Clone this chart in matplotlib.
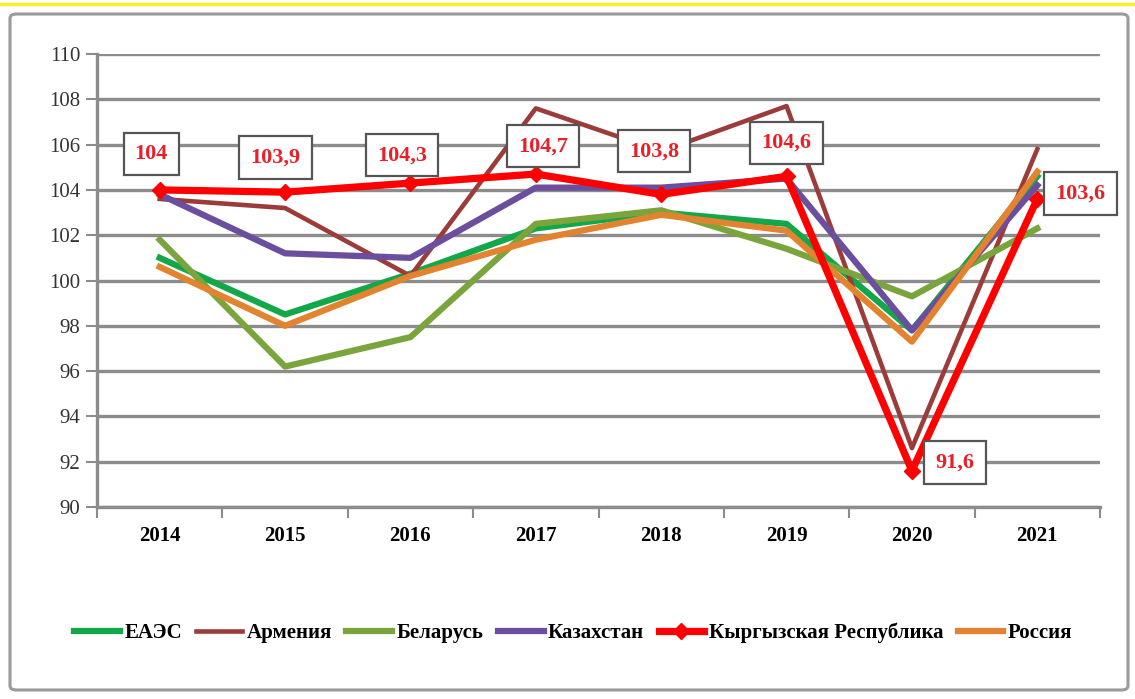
import numpy as np
import matplotlib.pyplot as plt
from matplotlib.patches import FancyBboxPatch
from matplotlib.lines import Line2D

years = ['2014', '2015', '2016', '2017', '2018', '2019', '2020', '2021']

eaeu = [101.0, 98.5, 100.3, 102.3, 103.0, 102.5, 97.8, 104.6]
armenia = [103.6, 103.2, 100.2, 107.6, 105.7, 107.7, 92.6, 105.8]
belarus = [101.8, 96.2, 97.5, 102.5, 103.1, 101.4, 99.3, 102.3]
kazakhstan = [103.8, 101.2, 101.0, 104.1, 104.1, 104.5, 97.8, 104.2]
kyrgyz = [104.0, 103.9, 104.3, 104.7, 103.8, 104.6, 91.6, 103.6]
russia = [100.6, 98.0, 100.2, 101.8, 102.9, 102.2, 97.3, 104.8]

kyrgyz_labels = ['104', '103,9', '104,3', '104,7', '103,8', '104,6', '91,6', '103,6']

plt.rcParams['font.family'] = ['Liberation Serif', 'DejaVu Serif']

fig = plt.figure(figsize=(11.35, 6.99), dpi=100)

# outer frame and the yellow strip on top
frame = FancyBboxPatch((10 / 1135, 1 - 690 / 699), 1118 / 1135, 676 / 699,
                       boxstyle='round,pad=0,rounding_size=0.006',
                       transform=fig.transFigure, facecolor='white',
                       edgecolor='#9a9a9a', linewidth=2.2, zorder=0)
fig.add_artist(frame)
fig.add_artist(Line2D([0.0, 1.0], [1 - 4 / 699, 1 - 4 / 699], transform=fig.transFigure,
                      color='#f5f032', linewidth=2.5))

ax = fig.add_axes([97 / 1135, 1 - 507 / 699, 1003 / 1135, 453 / 699])
ax.set_facecolor('none')
x = np.arange(len(years))

ax.plot(x, eaeu, color='#12a84a', linewidth=4.5, label='ЕАЭС', zorder=3)
ax.plot(x, armenia, color='#9c3c3a', linewidth=3.3, label='Армения', zorder=3)
ax.plot(x, belarus, color='#7aa53c', linewidth=4.5, label='Беларусь', zorder=3)
ax.plot(x, kazakhstan, color='#6b4e9e', linewidth=4.5, label='Казахстан', zorder=3)
ax.plot(x, russia, color='#e3832f', linewidth=4.5, label='Россия', zorder=4)
ax.plot(x, kyrgyz, color='#ff0000', linewidth=5.2, marker='D', markersize=8,
        label='Кыргызская Республика', zorder=5)

# value boxes for Kyrgyz Republic
offsets = [(-6, 26), (-7, 25), (-6, 20), (5, 20), (-5, 31), (0, 24), (31, 6), (31, 4)]
for xi, yi, lab, off in zip(x, kyrgyz, kyrgyz_labels, offsets):
    ax.annotate(lab, (xi, yi), xytext=off, textcoords='offset points',
                ha='center', va='center', fontsize=16, fontweight='bold',
                color='#e8202a', zorder=6,
                bbox=dict(boxstyle='square,pad=0.5', facecolor='white',
                          edgecolor='#555555', linewidth=1.6))

ax.set_xlim(-0.5, len(years) - 0.5)
ax.set_ylim(90, 110)
ax.set_yticks(np.arange(90, 111, 2))
ax.yaxis.grid(True, color='#8c8c8c', linewidth=2.4)
ax.set_axisbelow(True)

ax.set_xticks(np.arange(-0.5, len(years), 1.0))
ax.set_xticklabels([])
ax.set_xticks(x, minor=True)
ax.set_xticklabels(years, minor=True, fontsize=15, fontweight='bold')
ax.tick_params(axis='x', which='major', length=8, width=1.5, color='#8c8c8c')
ax.tick_params(axis='x', which='minor', length=0, pad=14)
ax.tick_params(axis='y', length=8, width=1.5, color='#8c8c8c', labelsize=15,
               labelcolor='#333333', pad=4)

for side in ['top', 'right']:
    ax.spines[side].set_visible(False)
ax.spines['left'].set_color('#8c8c8c')
ax.spines['left'].set_linewidth(2.4)
ax.spines['bottom'].set_color('#8c8c8c')
ax.spines['bottom'].set_linewidth(2.4)

handles, labels = ax.get_legend_handles_labels()
order = ['ЕАЭС', 'Армения', 'Беларусь', 'Казахстан', 'Кыргызская Республика', 'Россия']
hmap = dict(zip(labels, handles))
fig.legend([hmap[k] for k in order], order, loc='center', bbox_to_anchor=(0.505, 1 - 633 / 699),
           ncol=6, frameon=False, prop={'size': 15, 'weight': 'bold'},
           handlelength=2.2, handletextpad=0.2, columnspacing=0.7)

plt.savefig('out.png', dpi=100)
